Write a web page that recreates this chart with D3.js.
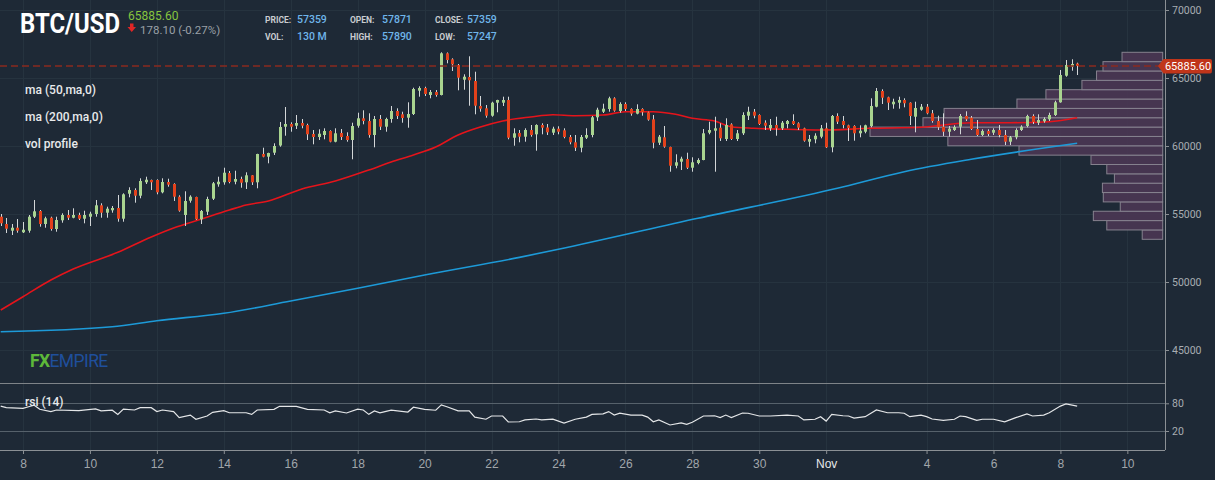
<!DOCTYPE html>
<html>
<head>
<meta charset="utf-8">
<title>BTC/USD</title>
<style>
  body { margin: 0; background: #1e2936; }
  svg { display: block; font-family: Roboto, "Noto Sans", sans-serif; }
</style>
</head>
<body>
<svg id="chart" width="1215" height="480"></svg>
<script src="https://d3js.org/d3.v7.min.js"></script>
<script>
// 4-hour candles, first one opens 7 Oct 2021 08:00 UTC
const firstCandle = Date.UTC(2021, 9, 7, 8);
const lastPrice = 65885.60;

// [open, high, low, close]
const ohlc = [
  [54802,55000,54117,54315],[54264,54705,53602,53919],[53772,54264,53455,53992],[53992,54632,53624,53772],
  [53654,54411,53602,53845],[53772,54926,53624,54802],[54802,56029,54705,55198],[55220,55294,54066,54264],
  [54264,54802,53992,54683],[54727,54802,53772,53897],[53897,54802,53698,54558],[54536,55051,54360,54926],
  [54926,55294,54558,54727],[54727,55419,54683,54926],[54926,55095,54558,54654],[54654,55242,54315,54926],
  [54802,55169,54117,55022],[55000,56029,54802,55639],[55639,55786,54727,55095],[55095,55537,54727,55390],
  [55272,55588,55095,55441],[55441,56397,54433,54654],[54654,56521,54433,56448],[56492,56963,56228,56764],
  [56764,56889,55831,56345],[56345,57625,56154,57426],[57331,57743,57206,57522],[57500,57530,56764,57331],
  [57500,57551,56448,56595],[56595,57625,56521,57353],[57353,57595,57007,57154],[57206,57257,55956,56272],
  [56272,56375,55169,55242],[54926,56669,54117,55956],[55978,56375,55831,56272],[56250,56272,54558,54610],
  [54610,55294,54264,55220],[55169,56272,54926,56103],[56125,57353,56029,57257],[57184,57743,57007,57375],
  [57331,58404,57154,58036],[58014,58161,57257,57353],[57375,58183,57184,57573],[57573,57743,56933,57301],
  [57331,58066,56838,57846],[57846,57860,57132,57331],[57331,59430,56889,59412],[59412,59875,59170,59214],
  [59214,59508,58728,59485],[59508,60198,59338,60000],[60036,61765,59948,61397],[61419,62867,60757,61617],
  [61617,61742,61051,61419],[61492,62279,61250,61691],[61691,61985,61301,61492],[61544,61640,60441,60860],
  [60882,61176,60125,60662],[60662,61228,60441,60904],[60809,61301,60492,61103],[61103,61154,60272,60316],
  [60316,61301,60272,60934],[60956,61250,60441,60662],[60735,61007,60316,60441],[60441,61713,59022,61470],
  [61492,62448,61345,62036],[62036,62625,61595,61838],[61838,62404,60610,60809],[60809,62206,59904,61985],
  [61985,62279,61176,61419],[61419,62080,61051,61985],[61985,62941,61713,62573],[62573,62772,61985,62206],
  [62331,62522,61713,62058],[62080,63213,61345,62353],[62353,64287,62279,64191],[64066,64389,63625,64264],
  [64264,64360,63676,63823],[63750,64117,63507,63970],[63970,64117,63625,63750],[63750,66890,63720,66816],
  [66816,66880,66080,66323],[66375,66448,65514,66007],[65956,66029,64095,65022],[64875,65272,64139,65095],
  [65073,66595,62963,64831],[64779,65463,62331,62963],[62941,63676,62522,62743],[62772,63014,62080,62228],
  [62228,63257,62154,63184],[63184,63400,62478,63382],[63184,63625,62941,63382],[63382,63625,60492,60610],
  [60610,61301,60022,60934],[60956,61176,60272,60684],[60684,61301,60316,61176],[61176,61544,60684,60809],
  [60860,61595,59654,61544],[61544,61669,60860,61345],[61360,61617,60809,61007],[60978,61419,60809,61272],
  [61272,61448,60860,61051],[61154,61301,60566,60662],[60662,60809,60125,60272],[60272,60809,59632,59875],
  [59875,60809,59537,60662],[60610,61301,60514,60809],[60809,62206,60639,62110],[62110,62816,61838,62669],
  [62522,63110,62426,62743],[62721,63625,62522,63507],[63507,63581,62522,62595],[62573,63213,62448,63088],
  [63088,63213,62573,62721],[62721,62772,62228,62375],[62375,63066,62331,62721],[62721,62772,62228,62478],
  [62478,62522,61860,61933],[61963,62279,59831,60242],[60242,60809,60073,60684],[60639,61470,59875,59948],
  [59926,59948,58110,58551],[58551,59390,58360,58801],[58845,59214,58235,59066],[59044,59508,58309,58404],
  [58404,59170,58110,58801],[58750,59096,58654,58970],[58970,61250,58950,60934],[60978,61786,60860,61176],
  [61125,62154,58110,61301],[61345,61669,60368,60566],[60514,62036,60368,61544],[61595,61669,60441,60514],
  [60514,61176,60368,60934],[60934,62478,60809,62279],[62228,62889,61911,62522],[62522,62721,62036,62228],
  [62279,62331,61544,61617],[61713,61889,61176,61492],[61301,61985,61103,61544],[61544,62154,60757,61301],
  [61301,61838,61176,61713],[61617,61911,61301,61838],[61838,62331,61544,61617],[61669,61742,61176,61345],
  [61301,61345,60316,60390],[60316,60809,59948,60514],[60492,60934,60198,60757],[60684,61544,60566,61301],
  [61301,61713,59853,59904],[59904,62279,59537,62206],[62206,62404,61617,61786],[61838,62206,61301,61544],
  [61522,61566,60368,61323],[61470,61522,60390,60934],[60934,61522,60639,61125],[61051,61566,60934,61522],
  [61470,63507,61375,62941],[62889,64264,62845,64044],[64044,64169,63088,63551],[63581,63625,62647,63184],
  [63066,63478,62743,63257],[63184,63625,62743,63382],[63382,63507,62845,63140],[63184,63213,61544,62206],
  [62154,63257,61007,62794],[62669,63088,62595,62889],[62889,63088,62331,62404],[62404,62647,61713,61838],
  [61838,62228,61176,61375],[61419,62404,60735,61051],[61051,61470,60684,61272],[61176,61522,61103,61397],
  [61419,62353,60860,62206],[62206,62551,61838,61963],[62080,62206,61176,61250],[61250,61911,60735,60809],
  [60809,61228,60735,61103],[61103,61228,60735,60882],[60978,61301,60809,61176],[61176,61544,60639,60809],
  [60809,61176,60073,60316],[60316,60735,60073,60639],[60639,61301,60492,61176],[61176,61522,61103,61419],
  [61470,62301,61375,62206],[62206,62331,61617,61765],[61713,62331,61544,61911],[61816,62110,61713,61985],
  [61963,62448,61838,62279],[62279,63331,62206,63213],[63213,65588,63184,65220],[65169,66323,65095,65956],
  [65831,66375,65536,66029],[66060,66125,65220,65885.6]
];

// moving averages, read at candle indexes
const ma50Idx = [0,4,9,13,21,27,31,36,41,44,48,54,60,66,70,74,78,82,86,90,95,99,103,108,112,117,121,124,128,131,135,141,147,156,165,174,181,188,193];
const ma50Val = [47941,48919,50146,50955,52180,53309,53970,54632,55294,55662,55956,56838,57426,58235,58823,59338,59926,60809,61397,61838,62132,62301,62228,62279,62522,62522,62331,62036,61838,61419,61301,61228,61176,61301,61375,61713,61713,61786,62080];
const ma200Idx = [0,20,28,40,52,64,76,93,100,125,150,162,174,193];
const ma200Val = [46345,46713,47154,47698,48603,49536,50514,51813,52407,54684,56889,58110,59022,60198];

// rsi (14)
const rsiIdx = [
  0,1,4,5,6,7,9,10,14,17, 18,20,21,22,24,25,27,28,29,31, 32,34,35,37,38,40,41,44,45,46,
  49,50,53,55,58,59,60,62,64,65, 66,67,68,70,73,74,76,78,79,80, 82,84,85,87,88,90,91,93,94,96,
  97,99,101,103,105,106,108,109,110,111, 113,115,116,117,118,120,122,123,124,126,
  128,129,130,131,133,134,136,138,141,143, 144,146,147,148,149,151,152,153,155,157,
  159,161,162,163,165,166,167,169,171,172, 173,175,176,178,180,182,184,185,187,188, 190,191,193
];
const rsiVal = [
  74,70.5,69,72.5,76,67,62,65.5,64,68, 63.5,65,56,67.5,65.5,70.5,70.5,62,65.5,62, 49,54.5,45.5,52.5,60.5,64,59.5,59.5,56,65.5,
  67,73.5,73.5,67,65.5,59.5,63.5,59,67.5,65.5, 56,63.5,59.5,65,61,71.5,67,65,76.5,72.5, 63.5,63.5,50,45.5,52.5,52.5,39.5,40,44,46,
  44,45.5,37,45.5,50,56,57,62,54.5,58.5, 54.5,54.5,50,40,44,33,37.5,34.5,39,52.5,
  53,49,54.5,49,59,58.5,52.5,52.5,54.5,52.5, 44,45.5,51,41.5,56,53,52.5,48,51,65.5,
  59.5,59.5,58.5,51,54.5,51,46,43,45.5,52.5, 51,43,45.5,45.5,40,49,57,52.5,54.5,59.5, 74,78.5,74
];

// volume profile, 20 price bins from profileLow upward (relative volume)
const profileLow = 53140;
const profileHigh = 66890;
const profileVol = [7.0,19.1,23.7,14.5,20.3,20.6,16.5,19.1,24.5,49.1,73.4,100,81.9,74.7,49.8,39.9,27.6,22.6,20.4,13.9];

const priceTicks = [45000,50000,55000,60000,65000,70000];
const rsiTicks = [20,80];
const dayTicks = ["2021-10-08","2021-10-10","2021-10-12","2021-10-14","2021-10-16","2021-10-18","2021-10-20",
  "2021-10-22","2021-10-24","2021-10-26","2021-10-28","2021-10-30","2021-11-01","2021-11-04","2021-11-06",
  "2021-11-08","2021-11-10"];
const dayLabels = ["8","10","12","14","16","18","20","22","24","26","28","30","Nov","4","6","8","10"];

const header = [["PRICE:", "57359"], ["OPEN:", "57871"], ["CLOSE:", "57359"],
                ["VOL:", "130 M"], ["HIGH:", "57890"], ["LOW:", "57247"]];

const HOUR = 3600e3;
const candleTime = i => new Date(firstCandle + i * 4 * HOUR);

const W = 1165;
const svg = d3.select("#chart");

const x = d3.scaleUtc()
  .domain([new Date(firstCandle - 0.5 * HOUR), new Date(firstCandle + 835 * HOUR)])
  .range([0, W]);
const y = d3.scaleLinear().domain([45000, 70000]).range([350, 10]);
const yr = d3.scaleLinear().domain([20, 80]).range([431, 403.3]);
const pw = d3.scaleLinear().domain([0, 100]).range([0, 292.7]);

svg.append("rect").attr("width", 1215).attr("height", 480).attr("fill", "#1e2936");

const defs = svg.append("defs");
defs.append("clipPath").attr("id", "mainClip")
  .append("rect").attr("x", 0).attr("y", 0).attr("width", W).attr("height", 384);
defs.append("clipPath").attr("id", "rsiClip")
  .append("rect").attr("x", 0).attr("y", 384).attr("width", W).attr("height", 66);

const tickDates = dayTicks.map(d => new Date(d + "T00:00:00Z"));

// grid
const grid = svg.append("g").attr("stroke", "#26333f").attr("stroke-width", 1);
grid.selectAll("line.v").data(tickDates).join("line")
  .attr("x1", d => Math.round(x(d)) + 0.5).attr("x2", d => Math.round(x(d)) + 0.5)
  .attr("y1", 0).attr("y2", 450);
grid.selectAll("line.h").data(priceTicks).join("line")
  .attr("x1", 0).attr("x2", W)
  .attr("y1", d => Math.round(y(d)) + 0.5).attr("y2", d => Math.round(y(d)) + 0.5);

// volume profile
const main = svg.append("g").attr("clip-path", "url(#mainClip)");
const binSize = (profileHigh - profileLow) / profileVol.length;
main.append("g").selectAll("rect").data(profileVol).join("rect")
  .attr("x", d => 1162.7 - pw(d))
  .attr("width", d => pw(d))
  .attr("y", (d, i) => y(profileLow + (i + 1) * binSize))
  .attr("height", (d, i) => y(profileLow + i * binSize) - y(profileLow + (i + 1) * binSize))
  .attr("fill", "#4a3653")
  .attr("fill-opacity", 0.9)
  .attr("stroke", "#86828f")
  .attr("stroke-width", 1);

// moving averages
const maLine = d3.line().x(d => x(candleTime(d[0]))).y(d => y(d[1])).curve(d3.curveMonotoneX);
main.append("path").datum(d3.zip(ma200Idx, ma200Val))
  .attr("d", maLine).attr("fill", "none").attr("stroke", "#1d9ad8").attr("stroke-width", 1.6);
main.append("path").datum(d3.zip(ma50Idx, ma50Val))
  .attr("d", maLine).attr("fill", "none").attr("stroke", "#e5141b").attr("stroke-width", 1.6);

// candles
const bw = 3;
const candle = main.append("g").selectAll("g").data(ohlc).join("g");
candle.append("line")
  .attr("x1", (d, i) => Math.round(x(candleTime(i))) + 0.5)
  .attr("x2", (d, i) => Math.round(x(candleTime(i))) + 0.5)
  .attr("y1", d => y(d[1])).attr("y2", d => y(d[2]))
  .attr("stroke", "#d3d6d8").attr("stroke-width", 1);
candle.append("rect")
  .attr("x", (d, i) => Math.round(x(candleTime(i))) + 0.5 - bw / 2)
  .attr("width", bw)
  .attr("y", d => y(Math.max(d[0], d[3])))
  .attr("height", d => Math.max(1.5, Math.abs(y(d[0]) - y(d[3]))))
  .attr("fill", d => d[3] >= d[0] ? "#a9d48f" : "#e2411b");

// last price line
svg.append("line")
  .attr("x1", 0).attr("x2", W).attr("y1", y(lastPrice)).attr("y2", y(lastPrice))
  .attr("stroke", "#8a2a1f").attr("stroke-width", 1.5).attr("stroke-dasharray", "7,4");

// rsi panel
svg.append("g").attr("stroke", "#56616b").selectAll("line").data(rsiTicks).join("line")
  .attr("x1", 0).attr("x2", W).attr("y1", d => Math.round(yr(d)) + 0.5).attr("y2", d => Math.round(yr(d)) + 0.5);
svg.append("g").attr("clip-path", "url(#rsiClip)")
  .append("path").datum(d3.zip(rsiIdx, rsiVal))
  .attr("d", d3.line().x(d => x(candleTime(d[0]))).y(d => yr(d[1])))
  .attr("fill", "none").attr("stroke", "#e4e6e8").attr("stroke-width", 1.2);

// frame lines
svg.append("line").attr("x1", 0).attr("x2", W).attr("y1", 383.5).attr("y2", 383.5).attr("stroke", "#7e8388");
svg.append("line").attr("x1", W + 0.5).attr("x2", W + 0.5).attr("y1", 0).attr("y2", 450).attr("stroke", "#8b9095");

// axes
const styleAxis = g => {
  g.select(".domain").remove();
  g.selectAll(".tick line").attr("stroke", "#8b9095");
  g.selectAll(".tick text").attr("fill", "#a8adb2").attr("font-family", "Roboto, sans-serif");
};
svg.append("g").attr("transform", `translate(${W},0)`)
  .call(d3.axisRight(y).tickValues(priceTicks).tickSize(4).tickPadding(3).tickFormat(d3.format("d")))
  .attr("font-size", 10.5).call(styleAxis);
svg.append("g").attr("transform", `translate(${W},0)`)
  .call(d3.axisRight(yr).tickValues(rsiTicks).tickSize(4).tickPadding(3))
  .attr("font-size", 10.5).call(styleAxis);

const xAxis = svg.append("g").attr("transform", "translate(0,450)")
  .call(d3.axisBottom(x).tickValues(tickDates).tickSize(4).tickPadding(5).tickFormat((d, i) => dayLabels[i]))
  .attr("font-size", 12);
xAxis.select(".domain").attr("stroke", "#8b9095").attr("d", `M0,0.5H${W}`);
xAxis.selectAll(".tick line").attr("stroke", "#8b9095");
xAxis.selectAll(".tick text").attr("fill", d => d.getUTCDate() === 1 ? "#e6e8ea" : "#a1a6ab");

// price tag
const tagY = y(lastPrice);
svg.append("path")
  .attr("d", `M1158,${tagY} L1163.5,${tagY - 7} H1210 Q1212,${tagY - 7} 1212,${tagY - 5} V${tagY + 5} Q1212,${tagY + 7.5} 1210,${tagY + 7.5} H1163.5 Z`)
  .attr("fill", "#c0351a");
svg.append("text").attr("x", 1188).attr("y", tagY + 4).attr("text-anchor", "middle")
  .attr("fill", "#ffffff").attr("font-size", 11).text(d3.format(".2f")(lastPrice));

// header
svg.append("text").attr("x", 20).attr("y", 33).attr("fill", "#ffffff")
  .attr("font-size", 27).attr("font-weight", 700)
  .attr("textLength", 100).attr("lengthAdjust", "spacingAndGlyphs").text("BTC/USD");
svg.append("text").attr("x", 128).attr("y", 20).attr("fill", "#86c43f").attr("font-size", 12)
  .text(d3.format(".2f")(lastPrice));
svg.append("path").attr("d", "M130,23.5 h3.5 v3.5 h2.5 l-4.25,5 l-4.25,-5 h2.5 z").attr("fill", "#e02626");
svg.append("text").attr("x", 140).attr("y", 33.5).attr("fill", "#9aa0a6").attr("font-size", 11.5)
  .text("178.10 (-0.27%)");

const hd = svg.append("g").selectAll("g").data(header).join("g")
  .attr("transform", (d, i) => `translate(${265 + (i % 3) * 85},${i < 3 ? 23 : 40})`);
hd.append("text").attr("fill", "#c9ccd0").attr("font-size", 8.5).attr("font-weight", 700)
  .text(d => d[0]);
hd.append("text").attr("x", 32).attr("fill", "#6fb5ea").attr("font-size", 10.5).attr("font-weight", 500)
  .text(d => d[1]);

// indicator labels
const labels = [["ma (50,ma,0)", 94], ["ma (200,ma,0)", 121], ["vol profile", 148], ["rsi (14)", 406]];
svg.append("g").selectAll("text").data(labels).join("text")
  .attr("x", 25).attr("y", d => d[1])
  .attr("fill", "#e8eaec").attr("font-size", 12).attr("font-weight", 500)
  .text(d => d[0]);

// logo
const logo = svg.append("text").attr("x", 30).attr("y", 367).attr("font-size", 17.5)
  .attr("letter-spacing", -0.6);
logo.append("tspan").attr("fill", "#5db83a").attr("font-weight", 700).text("FX");
logo.append("tspan").attr("fill", "#1f4f9c").attr("font-weight", 400).text("EMPIRE");
</script>
</body>
</html>
